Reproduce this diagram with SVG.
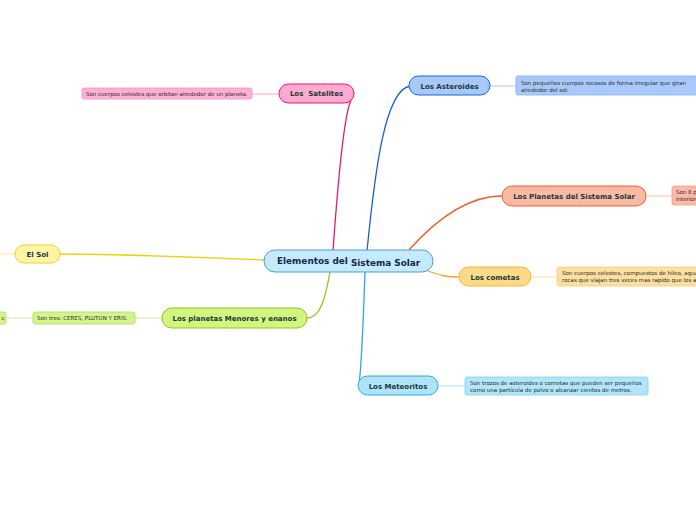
<svg xmlns="http://www.w3.org/2000/svg" width="696" height="520" viewBox="0 0 696 520">
<style>
.n{font-family:"DejaVu Sans",Verdana,sans-serif;font-weight:bold;font-size:7px;fill:#163a3a;text-anchor:middle}
.d{font-family:"DejaVu Sans",Verdana,sans-serif;font-size:5.5px;fill:#2a2a2a}
.c{fill:none;stroke-width:1.3}
.l{fill:none;stroke-width:1.2}
</style>
<rect width="696" height="520" fill="#fff"/>
<g id="connectors">
<path class="c" d="M333,251 C338,180 344,115 351,100" stroke="#e8186a"/>
<path class="c" d="M367,251 C375,170 385,90 410,86" stroke="#1a5fd0"/>
<path class="c" d="M409,250 C440,215 470,196 502,196" stroke="#f05a28"/>
<path class="c" d="M426,270 C440,276 448,277 459,277" stroke="#f5a623"/>
<path class="c" d="M365,272 C363,330 361,370 359,384" stroke="#29a9e1"/>
<path class="c" d="M330,272 C325,300 320,318 307,318" stroke="#8fc21a"/>
<path class="c" d="M264,260 C180,257 130,254 60,254" stroke="#f0d000"/>
<path class="l" d="M252,94 L279,94" stroke="#f7b4d2"/>
<path class="l" d="M490,86 L516,86" stroke="#b8d4f8"/>
<path class="l" d="M646,196 L672,196" stroke="#fcc8b8"/>
<path class="l" d="M531,277 L557,277" stroke="#fde4b0"/>
<path class="l" d="M438,386 L465,386" stroke="#b8e6f8"/>
<path class="l" d="M135,318 L162,318" stroke="#dcecc0"/>
<path class="l" d="M6,318 L33,318" stroke="#dcecc0"/>
<path class="l" d="M0,254 L15,254" stroke="#fbf0a0"/>
</g>
<g id="central">
<rect x="264" y="250" width="169" height="22" rx="11" fill="#c5eafb" stroke="#4a9fd8"/>
<text x="277" y="264" font-family="DejaVu Sans,Verdana,sans-serif" font-weight="bold" font-size="8.9" fill="#14284a">Elementos del <tspan dy="1.5">Sistema Solar</tspan></text>
</g>
<g id="satelites">
<rect x="279" y="84" width="75" height="19" rx="9.5" fill="#ffaad0" stroke="#e8186a"/>
<text class="n" x="316.5" y="96" xml:space="preserve">Los  Satelites</text>
</g>
<g id="satelites-desc">
<rect x="82" y="88" width="170" height="11" rx="2" fill="#ffb0d4" stroke="#f590c0" stroke-width="0.8"/>
<text class="d" x="86" y="95.7">Son cuerpos celestes que orbitan alrededor de un planeta.</text>
</g>
<g id="asteroides">
<rect x="409" y="76" width="81" height="19" rx="9.5" fill="#a8c8f8" stroke="#1a66d8"/>
<text class="n" x="449.5" y="88.5">Los Asteroides</text>
</g>
<g id="asteroides-desc">
<rect x="516" y="76" width="190" height="19" rx="2" fill="#a8c9fa" stroke="#80b0f0" stroke-width="0.8"/>
<text class="d" x="521" y="84.5">Son pequeños cuerpos rocosos de forma irregular que giran</text>
<text class="d" x="521" y="91.5">alrededor del sol.</text>
</g>
<g id="planetas">
<rect x="502" y="186" width="144" height="20" rx="10" fill="#f9b9a5" stroke="#f0602e"/>
<text class="n" x="574" y="198.5">Los Planetas del Sistema Solar</text>
</g>
<g id="planetas-desc">
<rect x="672" y="186" width="40" height="19" rx="2" fill="#fbb9a7" stroke="#f5a088" stroke-width="0.8"/>
<text class="d" x="676" y="194">Son 8 planetas</text>
<text class="d" x="676" y="201">interiores</text>
</g>
<g id="cometas">
<rect x="459" y="267" width="72" height="19" rx="9.5" fill="#fdd98a" stroke="#f5b82e"/>
<text class="n" x="495" y="279.5">Los cometas</text>
</g>
<g id="cometas-desc">
<rect x="557" y="267" width="150" height="19" rx="2" fill="#fde0a0" stroke="#f8cc70" stroke-width="0.8"/>
<text class="d" x="562" y="275">Son cuerpos celestes, compuestos de hileo, agua y</text>
<text class="d" x="562" y="282">rocas que viajan tres veces mas rapido que los asteroides</text>
</g>
<g id="meteoritos">
<rect x="358" y="376" width="80" height="19" rx="9.5" fill="#aee3fa" stroke="#29a9e1"/>
<text class="n" x="398" y="388.5">Los Meteoritos</text>
</g>
<g id="meteoritos-desc">
<rect x="465" y="377" width="183" height="18" rx="2" fill="#b2e5fa" stroke="#80d0f0" stroke-width="0.8"/>
<text class="d" x="470" y="384.5">Son trozos de asteroides o cometas que pueden ser pequeños</text>
<text class="d" x="470" y="391.5">como una partícula de polvo o alcanzar cientos de metros.</text>
</g>
<g id="menores">
<rect x="162" y="308" width="145" height="20" rx="10" fill="#d2f580" stroke="#8fc21a"/>
<text class="n" x="234.5" y="320.5">Los planetas Menores y enanos</text>
</g>
<g id="menores-desc">
<rect x="33" y="312" width="102" height="12" rx="2" fill="#d5f58c" stroke="#b0d86a" stroke-width="0.8"/>
<text class="d" x="37" y="320">Son tres: CERES, PLUTON Y ERIS.</text>
</g>
<g id="menores-desc2">
<rect x="-60" y="312" width="66" height="12" rx="2" fill="#d5f58c" stroke="#b0d86a" stroke-width="0.8"/>
<text class="d" x="4.5" y="320" text-anchor="end">c</text>
</g>
<g id="sol">
<rect x="15" y="245" width="45" height="18" rx="9" fill="#fff6a5" stroke="#f0d020"/>
<text class="n" x="37.5" y="257">El Sol</text>
</g>
</svg>
